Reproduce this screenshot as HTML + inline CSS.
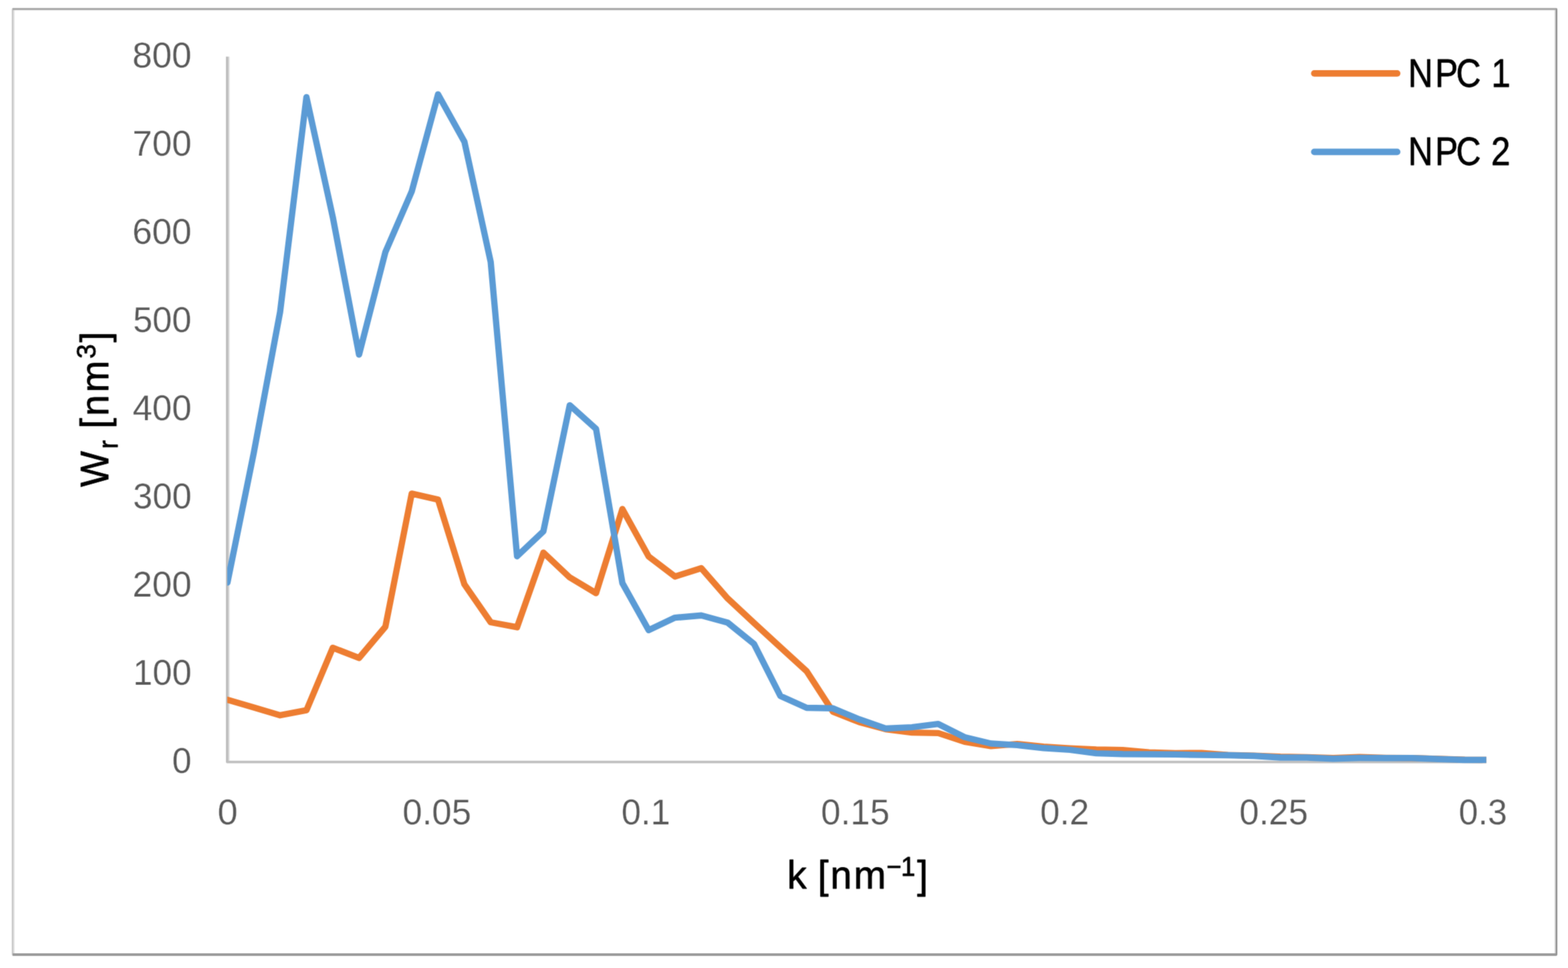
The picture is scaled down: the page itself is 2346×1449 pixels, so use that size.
<!DOCTYPE html>
<html lang="en">
<head>
<meta charset="utf-8">
<title>Wr vs k chart</title>
<style>
html,body{margin:0;padding:0;background:#fff;}
body{width:2346px;height:1449px;overflow:hidden;}
svg{display:block;}
text{font-family:"Liberation Sans","DejaVu Sans",sans-serif;}
.tick text{font-size:54px;fill:#595959;stroke:#fff;stroke-width:0.25px;paint-order:fill stroke;}
.ttl{font-size:60px;fill:#000;stroke:#000;stroke-width:0.8px;stroke-linejoin:round;}
</style>
</head>
<body>
<svg width="2346" height="1449" viewBox="0 0 2346 1449">
<defs>
<filter id="soft" filterUnits="userSpaceOnUse" x="0" y="0" width="2346" height="1449" color-interpolation-filters="sRGB"><feConvolveMatrix order="3" kernelMatrix="0.02560 0.10880 0.02560 0.10880 0.46240 0.10880 0.02560 0.10880 0.02560" divisor="1" edgeMode="duplicate" preserveAlpha="true"/></filter>
<clipPath id="frameclip"><rect x="17.4" y="11.7" width="2312.8" height="1419.2" rx="3" ry="3"/></clipPath>
<clipPath id="plot"><rect x="340" y="60" width="1883.8" height="1100"/></clipPath>
</defs>
<g filter="url(#soft)">
<rect x="0" y="0" width="2346" height="1449" fill="#ffffff"/>
<!-- outer frame -->
<g stroke="none" clip-path="url(#frameclip)">
<rect x="20.0" y="15.2" width="2.0" height="1411.8" fill="#e6e6e6"/>
<rect x="17.4" y="11.7" width="2.6" height="1419.2" fill="#c6c6c6"/>
<rect x="2325.9" y="15.2" width="1.7" height="1411.8" fill="#d8d8d8"/>
<rect x="2327.6" y="11.7" width="2.6" height="1419.2" fill="#8c8c8c"/>
<rect x="19.0" y="11.7" width="2309.6" height="3.5" fill="#a9a9a9"/>
<rect x="19.0" y="1427.0" width="2309.6" height="3.9" fill="#9a9a9a"/>
</g>
<!-- axes -->
<g stroke="none">
<rect x="341.9" y="84.7" width="1.7" height="1054" fill="#e2e2e2"/>
<path d="M338.0 84.7 H341.9 V1138.7 H2218.3 V1142.6 H340.0 Q338.0 1142.6 338.0 1140.6 Z" fill="#bfbfbf"/>
</g>
<!-- series -->
<g clip-path="url(#plot)" fill="none" stroke-width="9.4" stroke-linejoin="round" stroke-linecap="round">
<polyline stroke="#ed7d31" points="340.3,1047.5 379.7,1059.0 419.1,1070.7 458.5,1063.2 497.9,969.6 537.2,984.9 576.6,938.1 616.0,738.9 655.4,747.9 694.8,874.6 734.2,931.5 773.6,938.9 813.0,827.2 852.4,864.3 891.8,887.9 931.2,762.0 970.5,833.1 1009.9,863.0 1049.3,850.6 1088.7,895.8 1128.1,932.5 1167.5,968.8 1206.9,1004.7 1246.3,1065.5 1285.7,1081.0 1325.0,1091.5 1364.4,1096.6 1403.8,1097.4 1443.2,1110.3 1482.6,1116.9 1522.0,1113.6 1561.4,1117.6 1600.8,1120.2 1640.2,1122.0 1679.6,1122.7 1719.0,1126.2 1758.3,1127.5 1797.7,1127.1 1837.1,1130.1 1876.5,1131.1 1915.9,1132.8 1955.3,1133.4 1994.7,1134.8 2034.1,1133.3 2073.5,1134.4 2112.8,1134.8 2152.2,1135.9 2191.6,1137.3 2231.0,1137.5"/>
<polyline stroke="#5b9bd5" points="340.3,872.1 379.7,677.9 419.1,466.8 458.5,145.4 497.9,324.9 537.2,530.9 576.6,377.3 616.0,286.7 655.4,141.2 694.8,212.1 734.2,392.3 773.6,832.7 813.0,795.3 852.4,606.6 891.8,642.0 931.2,872.9 970.5,943.2 1009.9,924.6 1049.3,921.2 1088.7,932.0 1128.1,963.8 1167.5,1041.7 1206.9,1059.5 1246.3,1060.3 1285.7,1076.8 1325.0,1090.5 1364.4,1088.6 1403.8,1083.7 1443.2,1103.5 1482.6,1113.0 1522.0,1115.4 1561.4,1119.8 1600.8,1122.4 1640.2,1127.6 1679.6,1128.8 1719.0,1129.0 1758.3,1129.3 1797.7,1130.1 1837.1,1130.5 1876.5,1131.5 1915.9,1134.0 1955.3,1134.0 1994.7,1135.7 2034.1,1134.5 2073.5,1134.8 2112.8,1134.8 2152.2,1136.2 2191.6,1137.5 2231.0,1137.5"/>
</g>
<!-- tick labels -->
<g class="tick">
<text x="257.56" y="1156.8" textLength="29.09" lengthAdjust="spacingAndGlyphs">0</text>
<text x="199.00" y="1024.8" textLength="87.65" lengthAdjust="spacingAndGlyphs">100</text>
<text x="198.34" y="892.8" textLength="88.33" lengthAdjust="spacingAndGlyphs">200</text>
<text x="199.00" y="760.8" textLength="87.65" lengthAdjust="spacingAndGlyphs">300</text>
<text x="198.39" y="628.8" textLength="88.28" lengthAdjust="spacingAndGlyphs">400</text>
<text x="198.89" y="496.8" textLength="87.76" lengthAdjust="spacingAndGlyphs">500</text>
<text x="197.90" y="364.8" textLength="88.78" lengthAdjust="spacingAndGlyphs">600</text>
<text x="198.28" y="232.8" textLength="88.39" lengthAdjust="spacingAndGlyphs">700</text>
<text x="197.89" y="100.8" textLength="88.79" lengthAdjust="spacingAndGlyphs">800</text>
<text x="325.48" y="1234.3" textLength="30.25" lengthAdjust="spacingAndGlyphs">0</text>
<text x="602.24" y="1234.3" textLength="102.88" lengthAdjust="spacingAndGlyphs">0.05</text>
<text x="929.64" y="1234.3" textLength="73.23" lengthAdjust="spacingAndGlyphs">0.1</text>
<text x="1228.24" y="1234.3" textLength="102.88" lengthAdjust="spacingAndGlyphs">0.15</text>
<text x="1556.24" y="1234.3" textLength="73.31" lengthAdjust="spacingAndGlyphs">0.2</text>
<text x="1854.24" y="1234.3" textLength="102.88" lengthAdjust="spacingAndGlyphs">0.25</text>
<text x="2182.57" y="1234.3" textLength="72.32" lengthAdjust="spacingAndGlyphs">0.3</text>
</g>
<!-- legend -->
<g fill="none" stroke-width="9.6" stroke-linecap="round">
<line x1="1966.3" y1="109.9" x2="2090.5" y2="109.9" stroke="#ed7d31"/>
<line x1="1966.3" y1="227.4" x2="2090.5" y2="227.4" stroke="#5b9bd5"/>
</g>
<text class="ttl" transform="translate(2109.4 130.3) scale(0.86 1)" x="-3.08 43.65 80.40 123.18 141.62" y="0">NPC 1</text>
<text class="ttl" transform="translate(2109.4 247.3) scale(0.86 1)" x="-3.08 43.65 80.40 123.18 141.28" y="0">NPC 2</text>
<!-- axis titles -->
<text class="ttl" transform="translate(1182 1330.3) scale(0.97 1)" x="-4.33 27.75 42.70 62.24 98.14 148.72 171.11 196.10" y="0">k [nm<tspan font-size="40" dy="-19.1">−1</tspan><tspan dy="19.1">]</tspan></text>
<text class="ttl" transform="translate(162.4 728.9) rotate(-90) scale(0.95 1)" x="-0.24 60.13 75.88 92.02 111.85 149.05 202.19 227.78" y="0">W<tspan font-size="40" dy="13.9">r</tspan><tspan dy="-13.9"> [nm</tspan><tspan font-size="41" dy="-19.3">3</tspan><tspan dy="19.3">]</tspan></text>
</g>
</svg>
</body>
</html>
